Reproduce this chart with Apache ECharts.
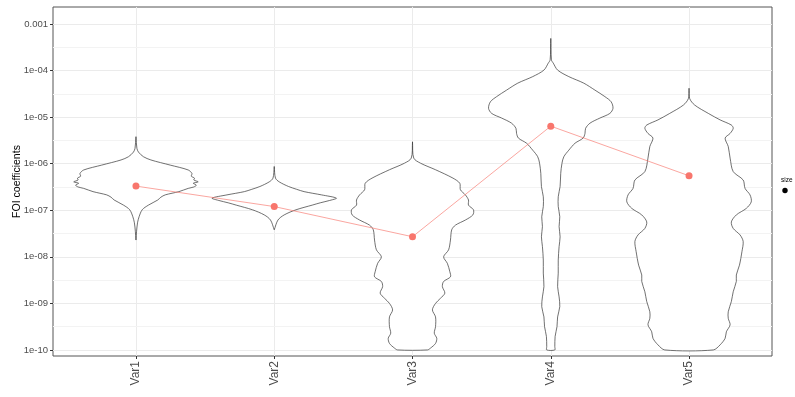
<!DOCTYPE html>
<html>
<head>
<meta charset="utf-8">
<script src="https://cdn.jsdelivr.net/npm/echarts@6/dist/echarts.min.js"></script>
<style>html,body{margin:0;padding:0;background:#fff}#c{width:795px;height:397px}</style>
</head>
<body>
<div id="c"></div>
<script>
// ---- data ----
const categories = ['Var1', 'Var2', 'Var3', 'Var4', 'Var5'];
const meanValues = [3.3e-7, 1.2e-7, 2.7e-8, 6.4e-6, 5.5e-7];
const tickExponents = [-10, -9, -8, -7, -6, -5, -4, -3];

// violin outlines: log10 level (top -> bottom) and relative half width
const var1Levels = [-5.42, -5.67, -5.75, -5.85, -5.92, -6.03, -6.135, -6.21, -6.27, -6.31, -6.35, -6.39, -6.42, -6.46, -6.50, -6.53, -6.60, -6.67, -6.72, -6.78, -6.89, -6.99, -7.14, -7.27, -7.45, -7.64];
const var1Widths = [0, 0.015, 0.04, 0.12, 0.24, 0.55, 0.84, 0.90, 0.89, 0.94, 0.93, 1.0, 0.92, 0.97, 0.93, 0.84, 0.69, 0.47, 0.40, 0.35, 0.20, 0.10, 0.05, 0.025, 0.01, 0];

const var2Levels = [-6.06, -6.31, -6.39, -6.49, -6.55, -6.60, -6.67, -6.74, -6.79, -6.84, -6.89, -6.99, -7.10, -7.21, -7.42];
const var2Widths = [0, 0.02, 0.08, 0.23, 0.36, 0.48, 0.76, 1.0, 0.89, 0.74, 0.61, 0.35, 0.16, 0.06, 0];

const var3Levels = [-5.53, -5.88, -5.99, -6.13, -6.31, -6.42, -6.56, -6.67, -6.78, -6.89, -6.99, -7.10, -7.21, -7.32, -7.42, -7.64, -7.85, -8.00, -8.14, -8.32, -8.43, -8.53, -8.64, -8.78, -8.89, -9.00, -9.14, -9.29, -9.50, -9.64, -9.75, -9.86, -9.96, -10.0];
const var3Widths = [0, 0.02, 0.13, 0.37, 0.65, 0.76, 0.77, 0.85, 0.90, 0.90, 0.98, 0.97, 0.85, 0.69, 0.63, 0.61, 0.58, 0.50, 0.56, 0.60, 0.61, 0.50, 0.48, 0.52, 0.45, 0.37, 0.32, 0.37, 0.37, 0.35, 0.39, 0.37, 0.29, 0.24];

const var4Levels = [-3.31, -3.77, -3.84, -3.99, -4.13, -4.27, -4.42, -4.56, -4.67, -4.81, -4.92, -5.02, -5.13, -5.24, -5.35, -5.45, -5.56, -5.71, -5.85, -5.99, -6.21, -6.49, -6.71, -6.92, -7.14, -7.35, -7.57, -7.78, -8.07, -8.35, -8.64, -8.86, -9.07, -9.29, -9.50, -9.71, -9.93, -10.0];
const var4Widths = [0, 0.01, 0.04, 0.11, 0.29, 0.53, 0.71, 0.87, 0.97, 1.0, 0.95, 0.79, 0.63, 0.56, 0.55, 0.52, 0.39, 0.29, 0.21, 0.18, 0.16, 0.15, 0.12, 0.12, 0.145, 0.134, 0.15, 0.134, 0.12, 0.12, 0.11, 0.134, 0.145, 0.11, 0.10, 0.07, 0.065, 0.065];

const var5Levels = [-4.38, -4.60, -4.74, -4.92, -5.06, -5.17, -5.24, -5.35, -5.45, -5.63, -5.88, -6.17, -6.35, -6.53, -6.67, -6.82, -6.96, -7.10, -7.25, -7.39, -7.53, -7.67, -7.89, -8.18, -8.39, -8.53, -8.75, -8.96, -9.18, -9.32, -9.46, -9.61, -9.75, -9.89, -10.0];
const var5Widths = [0, 0.01, 0.09, 0.31, 0.50, 0.68, 0.71, 0.66, 0.58, 0.63, 0.66, 0.71, 0.87, 0.90, 0.98, 1.0, 0.92, 0.76, 0.68, 0.71, 0.82, 0.87, 0.85, 0.81, 0.76, 0.76, 0.71, 0.68, 0.63, 0.63, 0.66, 0.60, 0.58, 0.50, 0.39];

const violinLevels = [var1Levels, var2Levels, var3Levels, var4Levels, var5Levels];
const violinWidths = [var1Widths, var2Widths, var3Widths, var4Widths, var5Widths];

// ---- chart ----
const HALF = 0.45;
const chart = echarts.init(document.getElementById('c'), null, {renderer: 'canvas'});
const catPos = categories.map((c, i) => i + 1);
const minorLines = [];
for (let i = 0; i < tickExponents.length - 1; i++) minorLines.push((tickExponents[i] + tickExponents[i + 1]) / 2);

function fmtY(v) {
  if (Math.abs(v - Math.round(v)) > 1e-6) return '';
  const n = Math.round(v);
  if (n === -3) return '0.001';
  return '1e-' + String(-n).padStart(2, '0');
}

const FONT = 'Liberation Sans, Arial, sans-serif';
const option = {
  animation: false,
  backgroundColor: '#fff',
  grid: {left: 53, right: 23, top: 7, bottom: 41, containLabel: false, outerBoundsMode: 'none',
    show: true, borderColor: '#555', borderWidth: 1, backgroundColor: 'transparent'},
  xAxis: {
    type: 'value', min: 0.4, max: 5.6, splitNumber: 5, minInterval: 1, maxInterval: 1,
    axisLine: {show: false},
    axisTick: {show: true, length: 3, lineStyle: {color: '#333'}, customValues: catPos},
    axisLabel: {customValues: catPos, rotate: 90, fontSize: 12, color: '#4d4d4d', margin: 5, fontFamily: FONT,
      formatter: v => (Math.abs(v - Math.round(v)) < 1e-6 && v >= 1 && v <= categories.length) ? categories[Math.round(v) - 1] : ''},
    splitLine: {show: true, lineStyle: {color: '#ebebeb', width: 1}}
  },
  yAxis: {
    type: 'value', min: -10.13, max: -2.635, splitNumber: 7, minInterval: 1, maxInterval: 1,
    name: 'FOI coefficients', nameLocation: 'middle', nameGap: 30, nameMoveOverlap: false,
    nameTextStyle: {fontSize: 10.5, color: '#000', fontFamily: FONT},
    axisLine: {show: false},
    axisTick: {show: true, length: 3, lineStyle: {color: '#333'}, customValues: tickExponents},
    axisLabel: {customValues: tickExponents, formatter: fmtY, fontSize: 9.5, color: '#4d4d4d', margin: 5, fontFamily: FONT},
    splitLine: {show: true, lineStyle: {color: '#ebebeb', width: 1}}
  },
  series: [
    {
      type: 'line', data: [], z: 1, silent: true,
      markLine: {silent: true, z: 1, symbol: 'none', label: {show: false},
        lineStyle: {color: '#f3f3f3', width: 1, type: 'solid'},
        emphasis: {disabled: true},
        data: minorLines.map(v => ({yAxis: v}))}
    },
    {
      type: 'custom', z: 3, silent: true,
      data: catPos.map(p => [p]),
      encode: {x: 0},
      renderItem: function (params, api) {
        const i = params.dataIndex;
        const x = api.value(0);
        const L = violinLevels[i], W = violinWidths[i];
        const pts = [];
        for (let k = 0; k < L.length; k++) pts.push(api.coord([x + W[k] * HALF, L[k]]));
        for (let k = L.length - 1; k >= 0; k--) pts.push(api.coord([x - W[k] * HALF, L[k]]));
        return {type: 'polygon', shape: {points: pts, smooth: 0.3},
          style: {fill: '#ffffff', stroke: '#333333', lineWidth: 0.7}};
      }
    },
    {
      type: 'line', z: 4, silent: true,
      data: catPos.map((p, i) => [p, Math.log10(meanValues[i])]),
      symbol: 'circle', symbolSize: 7,
      itemStyle: {color: '#F8766D'},
      lineStyle: {color: '#F8766D', width: 1, opacity: 0.65}
    }
  ],
  graphic: [
    {type: 'text', left: 781, top: 177, style: {text: 'size', fontSize: 6.5, fill: '#000', fontFamily: FONT}},
    {type: 'circle', shape: {cx: 785, cy: 190.5, r: 2.7}, style: {fill: '#000'}}
  ]
};
chart.setOption(option);
</script>
</body>
</html>
